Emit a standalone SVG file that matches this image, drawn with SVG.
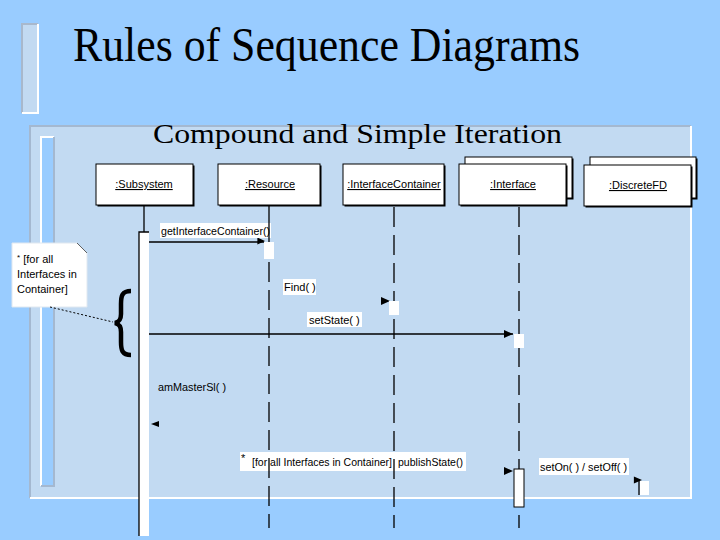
<svg xmlns="http://www.w3.org/2000/svg" width="720" height="540" viewBox="0 0 720 540">
<defs>
<style>
.lbl{font-family:"Liberation Sans",Arial,sans-serif;font-size:11px;fill:#000}
.obj{font-family:"Liberation Sans",Arial,sans-serif;font-size:11px;fill:#000;text-anchor:middle;text-decoration:underline}
.box{fill:#fff;stroke:#000;stroke-width:1}
.shadow{fill:#000}
.life{stroke:#000;stroke-width:1.3;fill:none}
.dash{stroke:#000;stroke-width:1.3;fill:none;stroke-dasharray:20 8}
.act{fill:#fff;stroke:none}
.msg{stroke:#000;stroke-width:1.3;fill:none}
.lblbg{fill:#fff}
</style>
<path id="ahR" d="M0,0 L-9,-4 L-9,4 Z" fill="#000"/>
<path id="ahL" d="M0,0 L8,-3 L8,3 Z" fill="#000"/>
</defs>

<!-- background -->
<rect x="0" y="0" width="720" height="540" fill="#99ccff"/>

<!-- title decoration -->
<rect x="22" y="24" width="16" height="89" fill="#c2daf2"/>
<path d="M22,113 L22,24 L38,24" stroke="#a8b8cc" stroke-width="2" fill="none"/>
<path d="M38,24 L38,113 L22,113" stroke="#ffffff" stroke-width="2" fill="none"/>

<text x="73" y="61" font-family="'Liberation Serif','Times New Roman',serif" font-size="48" textLength="507" lengthAdjust="spacingAndGlyphs" fill="#000">Rules of Sequence Diagrams</text>

<!-- panel -->
<rect x="30" y="126" width="661" height="372" fill="#c2daf2"/>
<path d="M30,498 L30,126 L691,126" stroke="#a4b8d0" stroke-width="2" fill="none"/>
<path d="M691,126 L691,498 L30,498" stroke="#ffffff" stroke-width="2" fill="none"/>

<!-- inner bar -->
<rect x="41" y="137" width="13" height="349" fill="#99ccff"/>
<path d="M41,486 L41,137 L54,137" stroke="#ffffff" stroke-width="2" fill="none"/>
<path d="M54,137 L54,486 L41,486" stroke="#a4b8d0" stroke-width="2" fill="none"/>

<text x="153" y="143" font-family="'Liberation Serif','Times New Roman',serif" font-size="28" textLength="409" lengthAdjust="spacingAndGlyphs" fill="#000">Compound and Simple Iteration</text>

<!-- note -->
<g id="note">
<path d="M12,243 L77,243 L87,253 L87,307 L12,307 Z" fill="#fff" stroke="#e0e8f0" stroke-width="1"/>
<path d="M77,243 L87,253" stroke="#606060" stroke-width="1" fill="none"/>
<text class="lbl" x="17" y="263"><tspan font-size="8" dy="-3">*</tspan><tspan dy="3"> [for all</tspan></text>
<text class="lbl" x="17" y="278">Interfaces in</text>
<text class="lbl" x="17" y="293">Container]</text>
</g>

<!-- brace -->
<g id="brace">
<path d="M131,291 C122,291 121,296 121,304 L121,314 C121,320 119,322 115,323 C119,324 121,326 121,332 L121,342 C121,350 122,355 131,355" stroke="#000" stroke-width="4.5" fill="none"/>
</g>

<!-- connectors -->
<g id="connectors">
<line x1="50" y1="307" x2="113" y2="322" stroke="#000" stroke-width="1" stroke-dasharray="2 2"/>
<line class="msg" x1="149" y1="242" x2="264" y2="242"/>
<use href="#ahR" transform="translate(265,241) scale(0.85)"/>
<rect class="lblbg" x="160" y="223" width="111" height="15"/>
<text class="lbl" x="161" y="235" textLength="109" lengthAdjust="spacingAndGlyphs">getInterfaceContainer()</text>

<use href="#ahR" transform="translate(390,301)"/>
<rect class="lblbg" x="283" y="279" width="33" height="16"/>
<text class="lbl" x="284" y="291">Find( )</text>

<line class="msg" x1="149" y1="334" x2="513" y2="334"/>
<use href="#ahR" transform="translate(513,334)"/>
<rect class="lblbg" x="307" y="312" width="55" height="15"/>
<text class="lbl" x="309" y="324">setState( )</text>

<text class="lbl" x="158" y="391" textLength="68" lengthAdjust="spacingAndGlyphs">amMasterSl( )</text>
<use href="#ahL" transform="translate(151,424)"/>

<rect class="lblbg" x="240" y="452" width="226" height="19"/>
<text class="lbl" x="241" y="462" font-size="8">*</text>
<text class="lbl" x="252" y="466" textLength="140" lengthAdjust="spacingAndGlyphs">[for all Interfaces in Container]</text>
<text class="lbl" x="398" y="466" textLength="65" lengthAdjust="spacingAndGlyphs">publishState()</text>
<use href="#ahR" transform="translate(513,471)"/>

<rect class="lblbg" x="539" y="458" width="90" height="17"/>
<text class="lbl" x="540" y="471" textLength="87" lengthAdjust="spacingAndGlyphs">setOn( ) / setOff( )</text>
<use href="#ahR" transform="translate(642,480) scale(0.9)"/>
</g>

<!-- Subsystem -->
<g id="subsystem">
<rect class="shadow" x="97.5" y="165.5" width="97" height="41"/>
<rect class="box" x="96" y="164" width="97" height="41"/>
<text class="obj" x="144" y="188">:Subsystem</text>
<line class="life" x1="144" y1="206" x2="144" y2="232"/>
<rect class="act" x="139" y="232" width="10" height="304"/>
<path d="M139,536 L139,232 L149,232" stroke="#000" stroke-width="1.3" fill="none"/>
</g>

<!-- Resource -->
<g id="resource">
<rect class="shadow" x="219.5" y="165.5" width="102" height="41"/>
<rect class="box" x="218" y="164" width="102" height="41"/>
<text class="obj" x="270" y="188">:Resource</text>
<line class="life" x1="269" y1="206" x2="269" y2="242"/>
<line class="dash" x1="269" y1="262" x2="269" y2="528"/>
<rect class="act" x="264" y="242" width="10" height="17"/>
</g>

<!-- InterfaceContainer -->
<g id="interfacecontainer">
<rect class="shadow" x="344.5" y="165.5" width="101" height="41"/>
<rect class="box" x="343" y="164" width="101" height="41"/>
<text class="obj" x="394" y="188">:InterfaceContainer</text>
<line class="dash" x1="394" y1="207" x2="394" y2="528"/>
<rect class="act" x="389" y="301" width="10" height="14"/>
</g>

<!-- Interface -->
<g id="interface">
<rect class="shadow" x="466.5" y="158.5" width="107" height="41"/>
<rect class="box" x="465" y="157" width="107" height="41"/>
<rect class="shadow" x="460.5" y="165.5" width="107" height="41"/>
<rect class="box" x="459" y="164" width="107" height="41"/>
<text class="obj" x="513" y="188">:Interface</text>
<line class="dash" x1="519" y1="207" x2="519" y2="528"/>
<rect class="act" x="514" y="334" width="10" height="14"/>
<rect x="514" y="469" width="10" height="38" fill="#fff" stroke="#000" stroke-width="1"/>
</g>

<!-- DiscreteFD -->
<g id="discretefd">
<rect class="shadow" x="591.5" y="158.5" width="106" height="41"/>
<rect class="box" x="590" y="157" width="106" height="41"/>
<rect class="shadow" x="585.5" y="166.5" width="107" height="41"/>
<rect class="box" x="584" y="165" width="107" height="41"/>
<text class="obj" x="638" y="189">:DiscreteFD</text>
<rect class="act" x="640" y="481" width="9" height="14"/>
<line class="life" x1="639" y1="479" x2="639" y2="495"/>
</g>
</svg>
